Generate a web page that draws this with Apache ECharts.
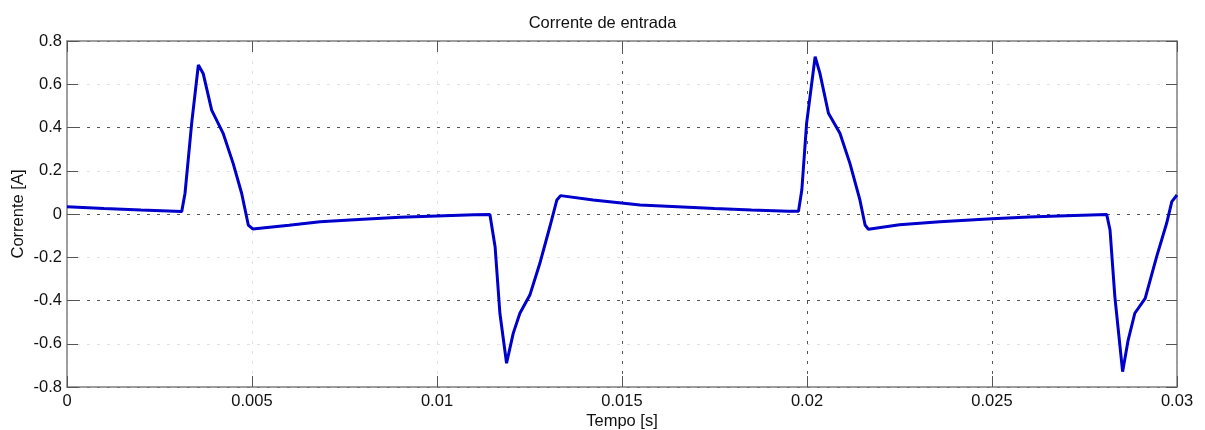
<!DOCTYPE html>
<html>
<head>
<meta charset="utf-8">
<script src="https://cdn.jsdelivr.net/npm/echarts@6/dist/echarts.min.js"></script>
<style>html,body{margin:0;padding:0;background:#fff;}#c{width:1205px;height:430px;}</style>
</head>
<body>
<div id="c"></div>
<script>
const titleText = "Corrente de entrada";
const xName = "Tempo [s]";
const yName = "Corrente [A]";
const time = [0, 0.001, 0.002, 0.0031, 0.00319, 0.00337, 0.00355, 0.00368, 0.00391, 0.00422, 0.00449, 0.00472, 0.0049, 0.00502, 0.006, 0.00684, 0.008, 0.009, 0.010, 0.011, 0.01143, 0.01157, 0.0117, 0.01188, 0.01206, 0.01224, 0.01251, 0.01278, 0.01305, 0.01324, 0.01334, 0.01422, 0.01549, 0.0165, 0.0175, 0.0185, 0.0195, 0.01977, 0.01986, 0.01999, 0.02022, 0.02035, 0.02058, 0.02089, 0.02116, 0.02143, 0.02157, 0.02166, 0.0225, 0.02359, 0.025, 0.026, 0.027, 0.0281, 0.02819, 0.02832, 0.02853, 0.02868, 0.02886, 0.02914, 0.02945, 0.02972, 0.02986, 0.030];
const current = [0.034, 0.025, 0.018, 0.011, 0.096, 0.42, 0.689, 0.65, 0.48, 0.373, 0.234, 0.096, -0.051, -0.069, -0.052, -0.036, -0.024, -0.015, -0.009, -0.004, -0.002, -0.151, -0.459, -0.69, -0.552, -0.459, -0.375, -0.228, -0.059, 0.065, 0.085, 0.065, 0.042, 0.034, 0.025, 0.018, 0.013, 0.013, 0.111, 0.42, 0.727, 0.65, 0.466, 0.373, 0.234, 0.065, -0.051, -0.071, -0.05, -0.036, -0.022, -0.014, -0.008, -0.002, -0.074, -0.382, -0.729, -0.583, -0.459, -0.39, -0.197, -0.043, 0.057, 0.088];
const xTicks = {min: 0, max: 0.03, interval: 0.005};
const yTicks = {min: -0.8, max: 0.8, interval: 0.2};

const DARK = '#555555', LIGHT = '#e2e2e2';
const font = 'Liberation Sans, Arial, sans-serif';
const FS = 16.5;
const border = {show: true, onZero: false, lineStyle: {color: '#7f7f7f', width: 1.5}};
const ticksIn = {show: true, inside: true, length: 11, lineStyle: {color: '#555', width: 1}};

const chart = echarts.init(document.getElementById('c'), null, {renderer: 'canvas'});
chart.setOption({
  animation: false,
  backgroundColor: '#ffffff',
  title: {text: titleText, left: 'center', top: 10,
    textStyle: {fontFamily: font, fontSize: FS, fontWeight: 'normal', color: '#111'}},
  grid: {left: 67, right: 28, top: 41, bottom: 43, containLabel: false, outerBoundsMode: 'none'},
  xAxis: [{
    type: 'value', position: 'bottom', min: xTicks.min, max: xTicks.max, interval: xTicks.interval,
    name: xName, nameLocation: 'middle', nameGap: 26, nameMoveOverlap: false,
    nameTextStyle: {fontFamily: font, fontSize: FS, color: '#111'},
    axisLine: border, axisTick: ticksIn,
    axisLabel: {fontFamily: font, fontSize: FS, color: '#111', margin: 6},
    splitLine: {show: true, showMinLine: true, showMaxLine: true,
      lineStyle: {type: [3, 7], width: 1, color: [LIGHT, LIGHT, LIGHT, DARK, DARK, DARK, LIGHT]}}
  }, {
    type: 'value', position: 'top', min: xTicks.min, max: xTicks.max, interval: xTicks.interval,
    axisLine: border, axisTick: ticksIn, axisLabel: {show: false}, splitLine: {show: false}
  }],
  yAxis: [{
    type: 'value', position: 'left', min: yTicks.min, max: yTicks.max, interval: yTicks.interval,
    name: yName, nameLocation: 'middle', nameGap: 40, nameRotate: 90, nameMoveOverlap: false,
    nameTextStyle: {fontFamily: font, fontSize: FS, color: '#111'},
    axisLine: border, axisTick: ticksIn,
    axisLabel: {fontFamily: font, fontSize: FS, color: '#111', margin: 5},
    splitLine: {show: true, showMinLine: true, showMaxLine: true,
      lineStyle: {type: [3, 7], width: 1, color: [DARK, LIGHT]}}
  }, {
    type: 'value', position: 'right', min: yTicks.min, max: yTicks.max, interval: yTicks.interval,
    axisLine: border, axisTick: ticksIn, axisLabel: {show: false}, splitLine: {show: false}
  }],
  series: [{
    type: 'line', xAxisIndex: 0, yAxisIndex: 0,
    data: time.map((t, i) => [t, current[i]]),
    showSymbol: false, smooth: false,
    lineStyle: {color: '#0000cc', width: 3},
    z: 5
  }]
});
</script>
</body>
</html>
